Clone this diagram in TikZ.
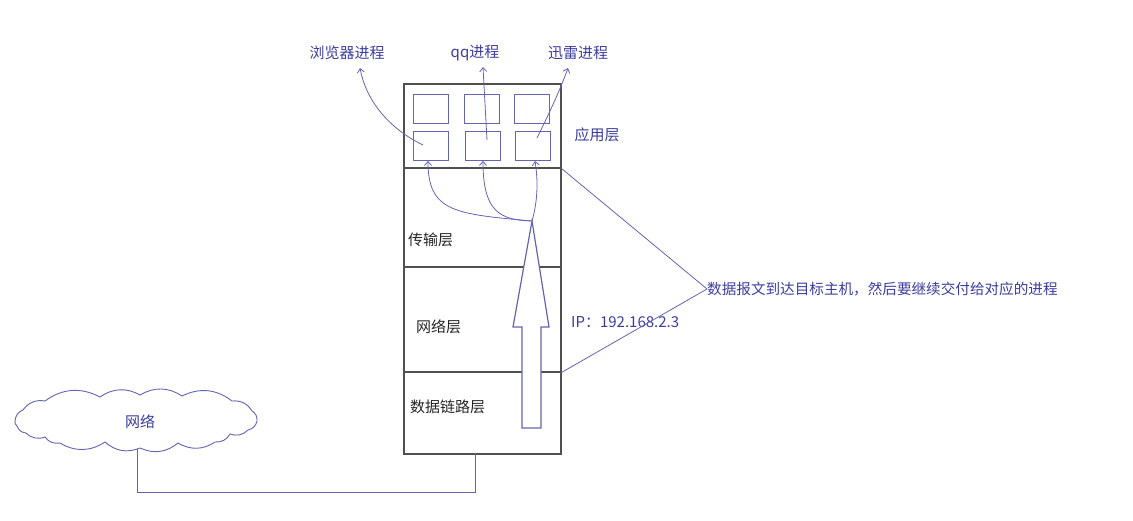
\documentclass[tikz,border=0pt]{standalone}
\usepackage{fontspec}
\newfontfamily\cjk{Noto Sans CJK SC}
\usetikzlibrary{arrows.meta,calc}
\definecolor{txtblue}{RGB}{60,60,160}
\definecolor{lineblue}{RGB}{100,100,178}
\definecolor{stackgray}{RGB}{80,80,80}
\tikzset{
  lbl/.style={font=\cjk\fontsize{15}{17}\selectfont, text=txtblue, inner sep=0pt},
  laylbl/.style={font=\cjk\fontsize{15}{17}\selectfont, text=black!85, inner sep=0pt, anchor=west},
  layer/.style={draw=stackgray, line width=1.5pt, anchor=north west, minimum width=157pt, inner sep=0pt},
  proc/.style={draw=lineblue, line width=0.9pt, anchor=north west, minimum width=35pt, minimum height=29pt, inner sep=0pt},
  conn/.style={draw=lineblue, line width=0.8pt},
  tip/.style={conn, -{Straight Barb[length=4pt,width=7pt,line width=0.8pt]}},
  puff/.style={bend left=32},
}
\begin{document}
\begin{tikzpicture}[x=1pt,y=-1pt]
\useasboundingbox (0,0) rectangle (1133,520);
% layers
\node[layer, minimum height=84pt] (app) at (403,83) {};
\node[layer, minimum height=99pt] (tr) at (403,167) {};
\node[layer, minimum height=105pt] (net) at (403,266) {};
\node[layer, minimum height=82pt] (dl) at (403,371) {};
% process boxes
\node[proc] (b1) at (413,94) {};
\node[proc] (b2) at (464,94) {};
\node[proc] (b3) at (514,94) {};
\node[proc] (p1) at (413,131) {};
\node[proc] (p2) at (465,131) {};
\node[proc] (p3) at (515,131) {};
% labels
\node[lbl] (l1) at (347,53) {浏览器进程};
\node[lbl] (l2) at (475,53) {qq进程};
\node[lbl] (l3) at (578,53) {迅雷进程};
\node[lbl] (appl) at (597,135) {应用层};
\node[laylbl] (trl) at (408,240) {传输层};
\node[laylbl] (netl) at (416,327) {网络层};
\node[laylbl] (dll) at (410,407) {数据链路层};
\node[lbl, anchor=west] (ip) at (571,322) {IP：192.168.2.3};
\node[lbl, anchor=west, font=\cjk\fontsize{14.6}{17}\selectfont] (note) at (707,289) {数据报文到达目标主机，然后要继续交付给对应的进程};
% big arrow
\coordinate (tipc) at (532,221);
\draw[draw=lineblue, line width=1.2pt, fill=white] (522,428) -- (522,327) -- (513,327) -- (tipc) -- (549,327) -- (541,327) -- (541,428) -- cycle;
% curves from arrow tip to process boxes
\draw[tip] (tipc) .. controls (455,214) and (428,212) .. (p1.south -| 428,0);
\draw[tip] (tipc) .. controls (500,220) and (483,212) .. (p2.south -| 483,0);
\draw[tip] (tipc) .. controls (538,200) and (538,180) .. (p3.south -| 535,0);
% arrows from boxes to process labels
\coordinate (s1) at (423,145);
\coordinate (s2) at (487,140);
\coordinate (s3) at (537,138);
\draw[tip] (s1) .. controls (388,128) and (366,100) .. (360,68);
\draw[tip] (s2) -- (483,67);
\draw[tip] (s3) .. controls (550,112) and (562,85) .. (568,68);
% note connectors
\draw[conn] (app.south east) -- (note.west);
\draw[conn] (net.south east) -- (note.west);
% cloud
\draw[draw=lineblue, line width=0.9pt, fill=white]
  (15,421) to[puff] (23,410) to[puff] (45,401) to[puff] (100,397) to[puff] (140,395)
  to[puff] (182,396) to[puff] (232,401) to[puff] (252,411) to[puff] (257,421)
  to[puff] (248,430) to[puff] (230,434) to[puff] (215,442) to[puff] (178,443)
  to[puff] (140,448) to[puff] (105,442) to[puff] (60,443) to[puff] (45,437)
  to[puff] (26,433) to[puff] (17,426) to[puff] cycle;
\node[lbl] (cl) at (140,422) {网络};
\coordinate (cloudbot) at (137,449);
\coordinate (dlport) at (475,453);
\draw[conn] (cloudbot) -- (cloudbot |- 0,492) -| (dlport);
\end{tikzpicture}
\end{document}
